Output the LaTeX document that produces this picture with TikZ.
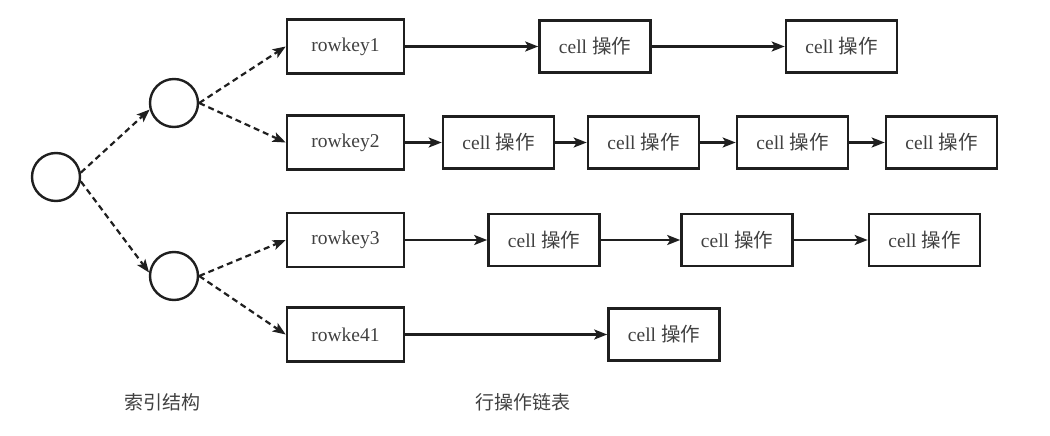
\documentclass[tikz,border=0pt]{standalone}
\usepackage{fontspec}
\setmainfont{Liberation Serif}
\newfontfamily\cjk{Noto Sans CJK SC}
\usetikzlibrary{arrows.meta}
\tikzset{
  every node/.style={text=black!75},
  circ/.style={draw=black!88,line width=2.4pt,circle,minimum size=48pt,inner sep=0pt},
  keybox/.style={draw=black!88,line width=2.6pt,minimum width=117pt,minimum height=54pt,inner sep=0pt,font=\fontsize{19.5}{22}\selectfont},
  cellbox/.style={draw=black!88,line width=2.6pt,minimum width=111pt,minimum height=52pt,inner sep=0pt,font=\fontsize{19.5}{22}\selectfont},
  link/.style={draw=black!88,line width=2.2pt,-{Stealth[length=13pt,width=10pt,inset=3pt]}},
  dlink/.style={link,dash pattern=on 6pt off 4pt},
  caption/.style={font=\cjk\fontsize{19}{21}\selectfont},
}
\newcommand{\cellop}{cell {\cjk 操作}}
\begin{document}
\begin{tikzpicture}[x=1pt,y=-1pt]
\useasboundingbox (0,0) rectangle (1050,436);
% index structure
\node[circ] (root) at (56,177) {};
\node[circ] (up) at (174,103) {};
\node[circ] (lo) at (174,276) {};
% rows
\node[keybox] (k1) at (345.5,46.5) {rowkey1};
\node[cellbox] (c11) at (595,46.5) {\cellop};
\node[cellbox] (c12) at (841.5,46.5) {\cellop};

\node[keybox] (k2) at (345.5,142.5) {rowkey2};
\node[cellbox] (c21) at (498.5,142.5) {\cellop};
\node[cellbox] (c22) at (643.5,142.5) {\cellop};
\node[cellbox] (c23) at (792.5,142.5) {\cellop};
\node[cellbox] (c24) at (941.5,142.5) {\cellop};

\node[keybox] (k3) at (345.5,240) {rowkey3};
\node[cellbox] (c31) at (544,240) {\cellop};
\node[cellbox] (c32) at (737,240) {\cellop};
\node[cellbox] (c33) at (924.5,240) {\cellop};

\node[keybox] (k4) at (345.5,334.5) {rowke41};
\node[cellbox] (c41) at (664,334.5) {\cellop};
% captions
\node[caption] (cap1) at (162,402) {索引结构};
\node[caption] (cap2) at (523,402) {行操作链表};
% dashed index links
\draw[dlink] (root.10) -- (up.195);
\draw[dlink] (root.-10) -- (lo.172);
\draw[dlink] (up.east) -- (k1.west);
\draw[dlink] (up.east) -- (k2.west);
\draw[dlink] (lo.east) -- (k3.west);
\draw[dlink] (lo.east) -- (k4.west);
% row chains
\draw[link] (k1) -- (c11);
\draw[link] (c11) -- (c12);
\draw[link] (k2) -- (c21);
\draw[link] (c21) -- (c22);
\draw[link] (c22) -- (c23);
\draw[link] (c23) -- (c24);
\draw[link] (k3) -- (c31);
\draw[link] (c31) -- (c32);
\draw[link] (c32) -- (c33);
\draw[link] (k4) -- (c41);
\end{tikzpicture}
\end{document}
